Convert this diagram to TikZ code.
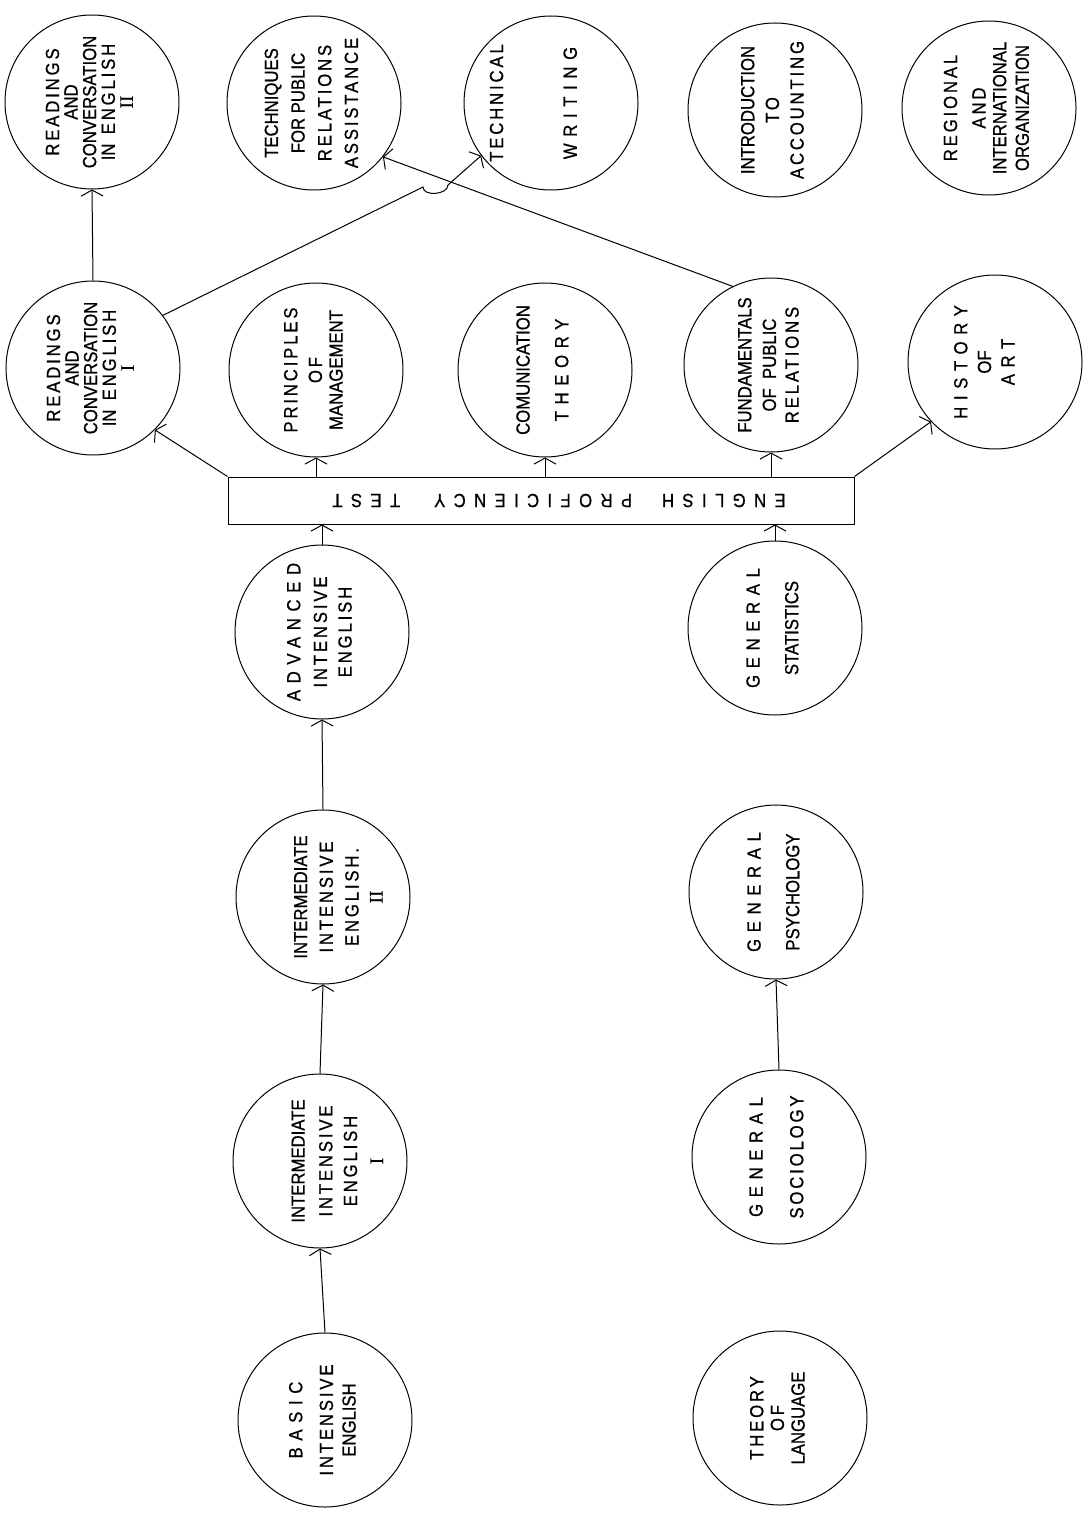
\documentclass[tikz,border=0pt]{standalone}
\usepackage{fontspec}
\setmainfont{Liberation Sans}[FakeStretch=0.88, FakeBold=0.8]
\newfontfamily\numfont{Liberation Serif}[FakeBold=0.8]
\usetikzlibrary{arrows.meta}
\newcommand{\lsa}[1]{{\addfontfeature{LetterSpace=15}#1}}
\newcommand{\lsb}[1]{{\addfontfeature{LetterSpace=35}#1}}
\newcommand{\lsc}[1]{{\addfontfeature{LetterSpace=44}#1}}
\newcommand{\rn}[1]{{\numfont #1}}
\newcommand{\rt}[1]{\rotatebox{90}{\begin{tabular}{@{}c@{}}#1\end{tabular}}}
\tikzset{
  course/.style={draw, circle, minimum size=174pt, inner sep=0pt, line width=1pt},
  every label/.style={font=\fontsize{19}{18}\selectfont, inner sep=0pt},
  arr/.style={line width=1pt, -{Straight Barb[length=6pt,width=22pt]}},
  testbox/.style={draw, minimum width=626pt, minimum height=47pt, inner sep=0pt,
    line width=1pt, font=\fontsize{19}{19}\selectfont}
}
\begin{document}
\begin{tikzpicture}[x=1pt,y=-1pt]
\useasboundingbox (0,0) rectangle (1087,1520);
% top row
\node[course, label={center:\rt{\lsa{READINGS}\\AND\\CONVERSATION\\IN\ \ \lsa{ENGLISH}\\\rn{II}}}] (r2) at (92,102) {};
\node[course, label={center:\rt{TECHNIQUES\\[8pt]FOR PUBLIC\\[8pt]\lsa{RELATIONS}\\[8pt]\lsa{ASSISTANCE}}}] (tech) at (314,103) {};
\node[course, label={center:\rt{\lsa{TECHNICAL}\\[55pt]\lsb{WRITING}\\[12pt]\mbox{}}}] (tw) at (551,103) {};
\node[course, label={center:\rt{INTRODUCTION\\[6pt]\lsa{TO}\\[6pt]\lsa{ACCOUNTING}}}] (acc) at (775,110) {};
\node[course, label={center:\rt{\lsa{REGIONAL}\\[10pt]\lsa{AND}\\[2pt]INTERNATIONAL\\[4pt]ORGANIZATION}}] (reg) at (989,108) {};
% second row
\node[course, label={center:\rt{\lsa{READINGS}\\AND\\CONVERSATION\\IN\ \ \lsa{ENGLISH}\\\rn{I}}}] (r1) at (93,368) {};
\node[course, label={center:\rt{\lsa{PRINCIPLES}\\[6pt]\lsa{OF}\\[2pt]MANAGEMENT}}] (prin) at (316,370) {};
\node[course, label={center:\rt{COMUNICATION\\[20pt]\lsb{THEORY}}}] (com) at (545,370) {};
\node[course, label={center:\rt{FUNDAMENTALS\\[6pt]OF\ \ PUBLIC\\[4pt]\lsa{RELATIONS}}}] (fund) at (771,365) {};
\node[course, label={center:\rt{\lsb{HISTORY}\\[5pt]OF\\[5pt]\lsb{ART}\\[-2pt]\mbox{}}}] (hist) at (995,362) {};
% test box
\node[testbox] (test) at (541,500.5) {\rotatebox{180}{\lsc{ENGLISH}\hspace{30pt}\lsc{PROFICIENCY}\hspace{34pt}\lsc{TEST}\hspace{36pt}}};
% lower rows
\node[course, label={center:\rt{\lsb{ADVANCED}\\[8pt]\lsa{INTENSIVE}\\[6pt]\lsa{ENGLISH}}}] (adv) at (322,632) {};
\node[course, label={center:\rt{\lsb{GENERAL}\\[20pt]STATISTICS}}] (stat) at (775,628) {};
\node[course, label={center:\rt{\mbox{}\\[18pt]INTERMEDIATE\\[7pt]\lsa{INTENSIVE}\\[7pt]\lsa{ENGLISH.}\\[6pt]\rn{II}}}] (int2) at (323,897) {};
\node[course, label={center:\rt{\lsb{GENERAL}\\[20pt]PSYCHOLOGY}}] (psy) at (776,892) {};
\node[course, label={center:\rt{\mbox{}\\[22pt]INTERMEDIATE\\[9pt]\lsa{INTENSIVE}\\[6pt]\lsa{ENGLISH}\\[8pt]\rn{I}}}] (int1) at (320,1161) {};
\node[course, label={center:\rt{\lsb{GENERAL}\\[22pt]\lsa{SOCIOLOGY}}}] (soc) at (779,1157) {};
\node[course, label={center:\rt{\lsb{BASIC}\\[12pt]\lsa{INTENSIVE}\\[4pt]ENGLISH}}] (basic) at (325,1420) {};
\node[course, label={center:\rt{\lsa{THEORY}\\[2pt]\lsa{OF}\\[2pt]LANGUAGE}}] (theo) at (780,1418) {};
% hop coordinates
\coordinate (hopA) at (423,187);
\coordinate (hopB) at (448,185);
% connectors
\draw[arr] (r1.north) -- (r2.south);
\draw[arr] (r1.37) -- (hopA) to[out=-90,in=-90] (hopB) -- (tw.217);
\draw[arr] (fund.116) -- (tech.-38);
\draw[arr] (test.north west) -- (r1.-45);
\draw[arr] (test.north -| prin.south) -- (prin.south);
\draw[arr] (test.north -| com.south) -- (com.south);
\draw[arr] (test.north -| fund.south) -- (fund.south);
\draw[arr] (test.north east) -- (hist.-137);
\draw[arr] (adv.north) -- (adv.north |- test.south);
\draw[arr] (stat.north) -- (stat.north |- test.south);
\draw[arr] (int2.north) -- (adv.south);
\draw[arr] (int1.north) -- (int2.south);
\draw[arr] (basic.north) -- (int1.south);
\draw[arr] (soc.north) -- (psy.south);
\end{tikzpicture}
\end{document}
